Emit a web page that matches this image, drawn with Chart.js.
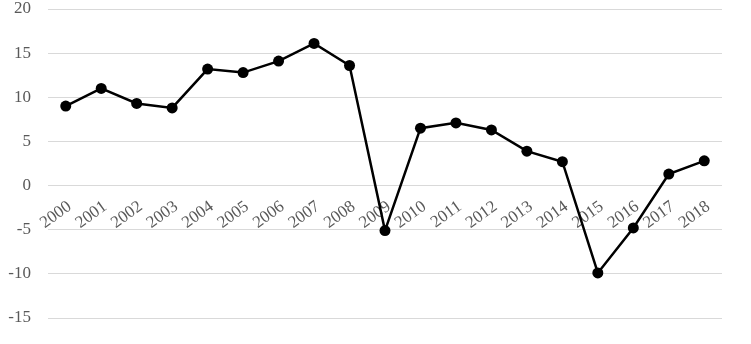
<!DOCTYPE html>
<html>
<head>
<meta charset="utf-8">
<script src="https://cdn.jsdelivr.net/npm/chart.js@4/dist/chart.umd.min.js"></script>
<style>
  html, body { margin: 0; padding: 0; background: #fff; }
  #wrap { width: 751px; height: 344px; }
</style>
</head>
<body>
<div id="wrap"><canvas id="chart"></canvas></div>
<script>
var years = ['2000', '2001', '2002', '2003', '2004', '2005', '2006', '2007', '2008', '2009',
	'2010', '2011', '2012', '2013', '2014', '2015', '2016', '2017', '2018'];
var growth = [9.0, 11.0, 9.3, 8.8, 13.2, 12.8, 14.1, 16.1, 13.6, -5.1,
	6.5, 7.1, 6.3, 3.9, 2.7, -9.9, -4.8, 1.3, 2.8];
var yMin = -15;
var yMax = 20;
var yStep = 5;

var ctx = document.getElementById('chart').getContext('2d');
var chart = new Chart(ctx, {
	type: 'line',
	data: {
		labels: years,
		datasets: [{
			data: growth,
			borderColor: '#000',
			borderWidth: 2.5,
			backgroundColor: '#000',
			pointRadius: 5.5,
			pointBackgroundColor: '#000',
			pointBorderWidth: 0,
			tension: 0,
		}]
	},
	options: {
		responsive: true,
		maintainAspectRatio: false,
		animation: false,
		layout: {
			padding: { top: 9, right: 29, bottom: 26, left: 0 },
		},
		plugins: {
			legend: { display: false },
			tooltip: { enabled: false },
		},
		scales: {
			x: {
				position: { y: 0 },
				offset: true,
				grid: { display: false, drawTicks: false },
				border: { display: false },
				ticks: {
					color: '#595959',
					font: { family: '"Liberation Serif", "Times New Roman", serif', size: 17 },
					minRotation: 36,
					maxRotation: 36,
					autoSkip: false,
					padding: 11,
					labelOffset: 4,
				},
				afterFit: function (scale) {
					scale.height = 0;
					scale.paddingTop = 0;
					scale.paddingBottom = 0;
				},
			},
			y: {
				min: yMin,
				max: yMax,
				grid: { color: '#d9d9d9', lineWidth: 1, drawTicks: false },
				border: { display: false },
				ticks: {
					stepSize: yStep,
					color: '#595959',
					font: { family: '"Liberation Serif", "Times New Roman", serif', size: 17 },
					padding: 17,
				},
				afterFit: function (scale) {
					scale.width = 48;
					scale.paddingTop = 0;
					scale.paddingBottom = 0;
				},
			},
		}
	}
});
</script>
</body>
</html>
